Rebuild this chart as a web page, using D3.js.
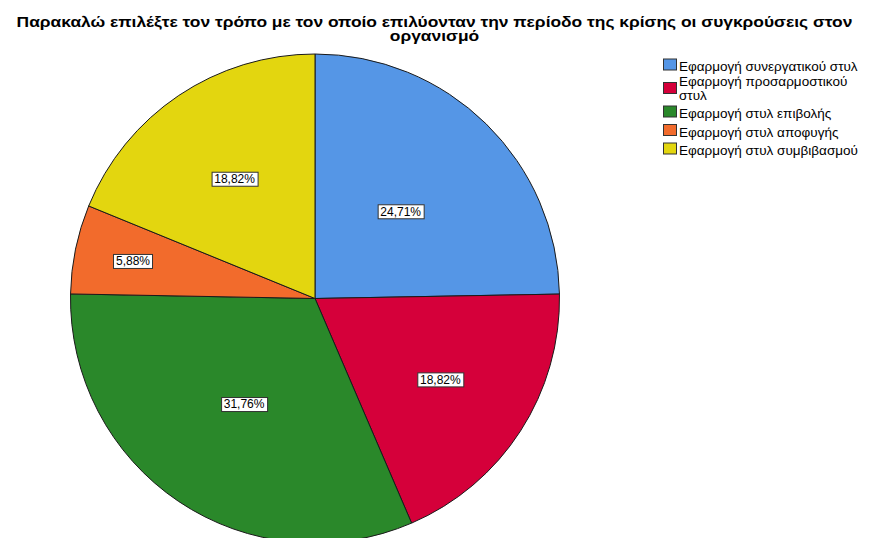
<!DOCTYPE html>
<html>
<head>
<meta charset="utf-8">
<script src="https://cdn.jsdelivr.net/npm/d3@7"></script>
<style>
  html, body { margin: 0; padding: 0; background: #fff; }
  svg { display: block; font-family: "Liberation Sans", Arial, sans-serif; }
</style>
</head>
<body>
<svg id="chart" width="869" height="538"></svg>
<script>
// Conflict-resolution styles during the crisis period (percent of respondents)
const titleLines = [
  "Παρακαλώ επιλέξτε τον τρόπο με τον οποίο επιλύονταν την περίοδο της κρίσης οι συγκρούσεις στον",
  "οργανισμό"
];
const categories = [
  "Εφαρμογή συνεργατικού στυλ",
  "Εφαρμογή προσαρμοστικού στυλ",
  "Εφαρμογή στυλ επιβολής",
  "Εφαρμογή στυλ αποφυγής",
  "Εφαρμογή στυλ συμβιβασμού"
];
const values = [24.71, 18.82, 31.76, 5.88, 18.82];
const colors = ["#5596e6", "#d5003a", "#2a882a", "#f26b2c", "#e3d60f"];
// legend entries wrap to these lines
const legendLines = [
  ["Εφαρμογή συνεργατικού στυλ"],
  ["Εφαρμογή προσαρμοστικού", "στυλ"],
  ["Εφαρμογή στυλ επιβολής"],
  ["Εφαρμογή στυλ αποφυγής"],
  ["Εφαρμογή στυλ συμβιβασμού"]
];
// distance of each value label from the centre, as a fraction of the radius
const labelRadiusFrac = [0.50, 0.61, 0.52, 0.76, 0.59];

const svg = d3.select("#chart");
const cx = 315, cy = 298.5, r = 244.5;

// title: wide bold face, stretched horizontally
svg.append("g")
  .attr("transform", "translate(434.5,0) scale(1.2,1)")
  .selectAll("text")
  .data(titleLines).join("text")
  .attr("x", 0).attr("y", (d, i) => 27.5 + i * 14)
  .attr("text-anchor", "middle")
  .attr("font-size", 14.5).attr("font-weight", "bold")
  .attr("fill", "#000")
  .text(d => d);

const data = categories.map((c, i) => ({ cat: c, value: values[i], color: colors[i], lr: labelRadiusFrac[i] }));

const pie = d3.pie().value(d => d.value).sort(null);
const arcs = pie(data);
const arc = d3.arc().innerRadius(0).outerRadius(r);

const g = svg.append("g").attr("transform", `translate(${cx},${cy})`);

g.selectAll("path.slice")
  .data(arcs).join("path")
  .attr("class", "slice")
  .attr("d", arc)
  .attr("fill", d => d.data.color)
  .attr("stroke", "#1a1a1a")
  .attr("stroke-width", 1)
  .attr("stroke-linejoin", "round");

// value labels in framed boxes
const fmt = v => v.toFixed(2).replace(".", ",") + "%";
const lab = g.selectAll("g.lab")
  .data(arcs).join("g")
  .attr("class", "lab")
  .attr("transform", d => {
    const la = d3.arc().innerRadius(r * d.data.lr).outerRadius(r * d.data.lr);
    const [x, y] = la.centroid(d);
    return `translate(${x},${y})`;
  });

lab.append("text")
  .attr("text-anchor", "middle")
  .attr("dy", "0.36em")
  .attr("font-size", 12)
  .attr("fill", "#000")
  .text(d => fmt(d.data.value));

lab.each(function() {
  const grp = d3.select(this);
  const bb = grp.select("text").node().getBBox();
  grp.insert("rect", "text")
    .attr("x", Math.round(bb.x) - 2.5)
    .attr("y", Math.round(bb.y) + 0.5)
    .attr("width", Math.round(bb.width) + 5)
    .attr("height", Math.round(bb.height))
    .attr("fill", "#fff")
    .attr("stroke", "#333")
    .attr("stroke-width", 1);
});

// legend: swatch centred on its (possibly wrapped) label block
const legend = svg.append("g").attr("transform", "translate(663,0)");
const rowH = 18.5, extraLineH = 10, lineGap = 14;
let yc = 64.5;
legendLines.forEach((lines, i) => {
  const h = rowH + (lines.length - 1) * extraLineH;
  if (i > 0) yc += h / 2;
  const row = legend.append("g").attr("transform", `translate(0,${yc})`);
  row.append("rect")
    .attr("x", 0.5).attr("y", -5.5)
    .attr("width", 13).attr("height", 11)
    .attr("fill", colors[i])
    .attr("stroke", "#333").attr("stroke-width", 1);
  row.selectAll("text").data(lines).join("text")
    .attr("x", 16)
    .attr("y", (d, j) => 6.5 + (j - (lines.length - 1) / 2) * lineGap - (lines.length > 1 ? 1.5 : 0))
    .attr("font-size", 13.5)
    .attr("fill", "#000")
    .text(d => d);
  yc += h / 2;
});
</script>
</body>
</html>
